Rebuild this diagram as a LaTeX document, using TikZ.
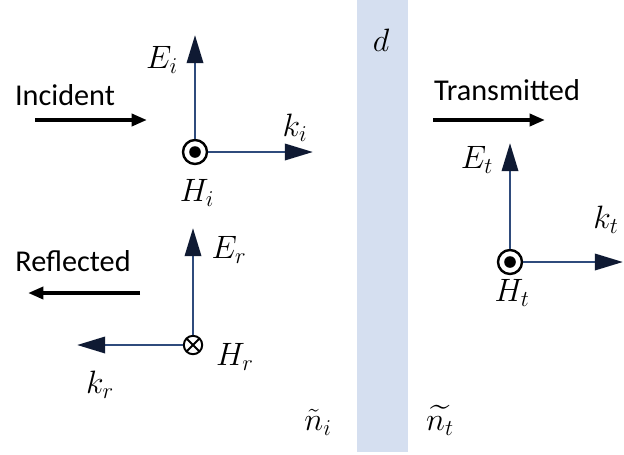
\documentclass[tikz,border=0pt]{standalone}
\usepackage{fix-cm}
\usepackage{amsmath}
\usepackage{fontspec}
\setmainfont{Carlito}
\usepackage{tikz}
\usetikzlibrary{arrows.meta,positioning,calc}
\definecolor{slab}{HTML}{D5DFF0}
\definecolor{field}{HTML}{2F4B7C}
\definecolor{tipc}{HTML}{0F1A33}

\begin{document}
\begin{tikzpicture}[x=0.025cm,y=-0.025cm,font=\fontsize{21.5}{25}\selectfont,
  fieldvec/.style={draw=field,line width=2.1pt,-{Triangle[length=20pt,width=11.5pt,color=tipc]}},
  beam/.style={draw=black,line width=2.8pt,-{Triangle[length=11pt,width=8.5pt]}},
  mlbl/.style={font=\fontsize{23}{26}\selectfont},
  outof/.style={circle,draw,line width=1.7pt,minimum size=0.6cm,inner sep=0pt,fill=white,
    path picture={\fill[black] (path picture bounding box.center) circle (0.145cm);}},
  into/.style={circle,draw,line width=1.4pt,minimum size=0.46cm,inner sep=0pt,fill=white,
    path picture={\draw[black,line width=1.4pt] (path picture bounding box.south west) -- (path picture bounding box.north east)
      (path picture bounding box.north west) -- (path picture bounding box.south east);}}]
  \useasboundingbox (0,0) rectangle (624,454);
  % slab of thickness d
  \fill[slab] (357,0) rectangle (408,452);
  \node[mlbl] (d) at (381,40) {$d$};
  \node[mlbl] (ni) at (318,422) {$\tilde{n}_i$};
  \node[mlbl] (nt) at (440,420) {$\widetilde{n_t}$};

  % incident
  \node (inc) at (65,95) {Incident};
  \coordinate (incA) at (35,120); \coordinate (incB) at (147,120);
  \draw[beam] (incA) -- (incB);
  \node[outof] (Hi) at (195,152) {};
  \coordinate (Eitip) at (195,35); \coordinate (kitip) at (313,152);
  \draw[fieldvec] (Hi) -- (Eitip);
  \draw[fieldvec] (Hi) -- (kitip);
  \node[mlbl] (Ei) at (162,60) {$E_i$};
  \node[mlbl] (ki) at (295,128) {$k_i$};
  \node[mlbl] (Hil) at (197,193) {$H_i$};

  % reflected
  \node (refl) at (73,261) {Reflected};
  \coordinate (refA) at (140,293); \coordinate (refB) at (28,293);
  \draw[beam] (refA) -- (refB);
  \node[into] (Hr) at (193,345) {};
  \coordinate (Ertip) at (193,228); \coordinate (krtip) at (77,345);
  \draw[fieldvec] (Hr) -- (Ertip);
  \draw[fieldvec] (Hr) -- (krtip);
  \node[mlbl] (Er) at (229,250) {$E_r$};
  \node[mlbl] (Hrl) at (235,357) {$H_r$};
  \node[mlbl] (kr) at (100,385) {$k_r$};

  % transmitted
  \node (trans) at (507,90) {Transmitted};
  \coordinate (trA) at (433,120); \coordinate (trB) at (545,120);
  \draw[beam] (trA) -- (trB);
  \node[outof] (Ht) at (510,262) {};
  \coordinate (Ettip) at (510,143); \coordinate (kttip) at (623,262);
  \draw[fieldvec] (Ht) -- (Ettip);
  \draw[fieldvec] (Ht) -- (kttip);
  \node[mlbl] (Et) at (477,160) {$E_t$};
  \node[mlbl] (kt) at (606,220) {$k_t$};
  \node[mlbl] (Htl) at (512,293) {$H_t$};
\end{tikzpicture}
\end{document}
